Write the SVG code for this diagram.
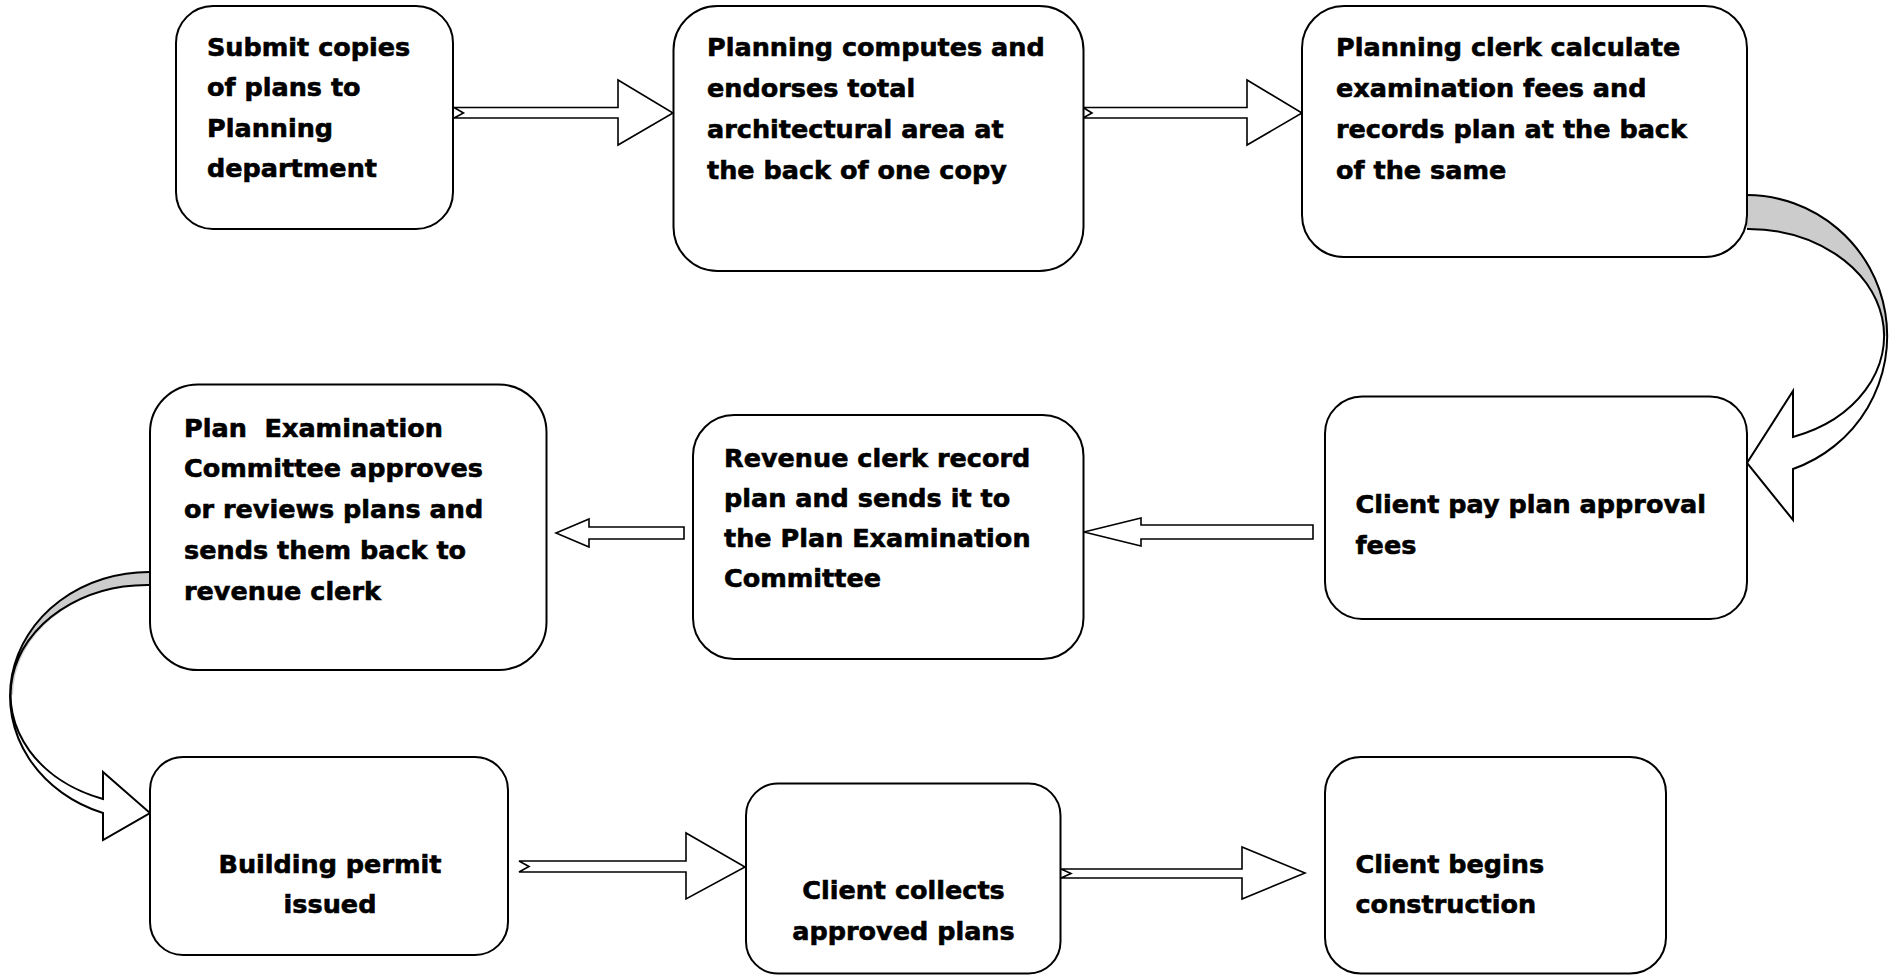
<svg xmlns="http://www.w3.org/2000/svg" width="1896" height="976" viewBox="0 0 1896 976">
<style>
.box{fill:#fff;stroke:#000;stroke-width:2}
.t{font-family:"DejaVu Sans","Verdana",sans-serif;font-weight:bold;font-size:25.5px;fill:#000;stroke:#000;stroke-width:0.6}
.c{text-anchor:middle}
.ba{fill:#fff;stroke:#000;stroke-width:1.6;stroke-linejoin:miter}
.ln{fill:none;stroke:#000;stroke-width:2}
.gr{fill:#cccccc;stroke:none}
.wh{fill:#fff;stroke:none}
</style>
<rect width="1896" height="976" fill="#fff"/>
<g id="connectors">
<polygon class="ba" points="454,107.5 618,107.5 618,80 673,113 618,145 618,118 454,118 463.5,113"/>
<polygon class="ba" points="1083,107.5 1247,107.5 1247,80 1302,113 1247,145 1247,118 1083,118 1092,113"/>
<polygon class="ba" points="1313,525 1141,525 1141,518 1084,532 1141,546 1141,539 1313,539"/>
<polygon class="ba" points="684,527 589,527 589,519 556,533 589,547 589,539 684,539"/>
<polygon class="ba" points="519,861 686,861 686,833 745,867 686,899 686,872 519,872 529,866.5"/>
<polygon class="ba" points="1061,869 1242,869 1242,847 1305,873 1242,899 1242,878 1061,878 1071,873.5"/>
<g id="curve-right">
<path class="gr" d="M1747,195 A141,141 0 0 1 1888,336 L1883,336 A136,107 0 0 0 1747,229 Z"/>
<path class="wh" d="M1888,336 A141,141 0 0 1 1793,469 L1793,520 L1747,463 L1793,391 L1793,437 A136,107 0 0 0 1883,336 Z"/>
<path class="ln" d="M1747,195 A141,141 0 0 1 1793,469 L1793,520 L1747,463 L1793,391 L1793,437 A136,107 0 0 0 1747,229"/>
</g>
<g id="curve-left">
<path class="gr" d="M150,572 A139,124 0 0 0 11,696 L13,695 A137,110 0 0 1 150,585 Z"/>
<path class="wh" d="M11,696 A139,124 0 0 0 103,813 L103,840 L150,813 L103,772 L103,799 A137,110 0 0 1 13,695 Z"/>
<path class="ln" d="M150,572 A139,124 0 0 0 103,813 L103,840 L150,813 L103,772 L103,799 A137,110 0 0 1 150,585"/>
</g>
</g>
<g id="n1">
<rect class="box" x="176" y="6" width="277" height="223" rx="37"/>
<text class="t" x="207" y="55.5">Submit copies</text>
<text class="t" x="207" y="96">of plans to</text>
<text class="t" x="207" y="136.5">Planning</text>
<text class="t" x="207" y="177">department</text>
</g>
<g id="n2">
<rect class="box" x="673.5" y="6" width="410" height="265" rx="44"/>
<text class="t" x="707" y="55.5">Planning computes and</text>
<text class="t" x="707" y="96.5">endorses total</text>
<text class="t" x="707" y="137.5">architectural area at</text>
<text class="t" x="707" y="178.5">the back of one copy</text>
</g>
<g id="n3">
<rect class="box" x="1302" y="6" width="445" height="251" rx="42"/>
<text class="t" x="1336" y="55.5">Planning clerk calculate</text>
<text class="t" x="1336" y="96.5">examination fees and</text>
<text class="t" x="1336" y="137.5">records plan at the back</text>
<text class="t" x="1336" y="178.5">of the same</text>
</g>
<g id="n4">
<rect class="box" x="1325" y="396.5" width="422" height="222.5" rx="37"/>
<text class="t" x="1355.5" y="512.5">Client pay plan approval</text>
<text class="t" x="1355.5" y="553.5">fees</text>
</g>
<g id="n5">
<rect class="box" x="693" y="415" width="390.5" height="244" rx="41"/>
<text class="t" x="724" y="466.5">Revenue clerk record</text>
<text class="t" x="724" y="506.5">plan and sends it to</text>
<text class="t" x="724" y="546.5">the Plan Examination</text>
<text class="t" x="724" y="586.5">Committee</text>
</g>
<g id="n6">
<rect class="box" x="150" y="384.5" width="396.5" height="285.5" rx="48"/>
<text class="t" x="184" y="436.5" xml:space="preserve">Plan  Examination</text>
<text class="t" x="184" y="476.5">Committee approves</text>
<text class="t" x="184" y="517.5">or reviews plans and</text>
<text class="t" x="184" y="558.5">sends them back to</text>
<text class="t" x="184" y="599.5">revenue clerk</text>
</g>
<g id="n7">
<rect class="box" x="150" y="757" width="358" height="198" rx="33"/>
<text class="t c" x="330" y="872.5">Building permit</text>
<text class="t c" x="330" y="912.5">issued</text>
</g>
<g id="n8">
<rect class="box" x="746" y="783.5" width="314.5" height="190" rx="32"/>
<text class="t c" x="903.5" y="898.5">Client collects</text>
<text class="t c" x="903.5" y="939.5">approved plans</text>
</g>
<g id="n9">
<rect class="box" x="1325" y="757" width="341" height="216.5" rx="36"/>
<text class="t" x="1355.5" y="872.5">Client begins</text>
<text class="t" x="1355.5" y="912.5">construction</text>
</g>
</svg>
